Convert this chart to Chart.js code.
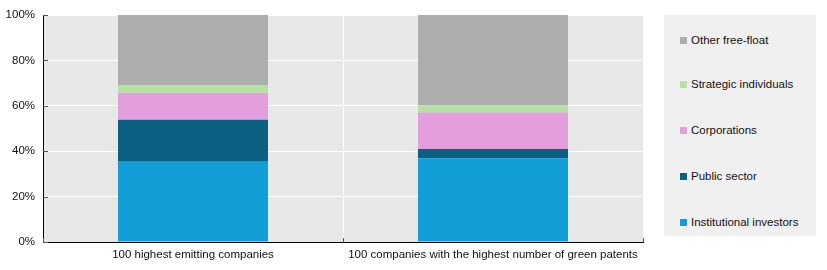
<!DOCTYPE html>
<html>
<head>
<meta charset="utf-8">
<script src="https://cdn.jsdelivr.net/npm/chart.js@4"></script>
<style>
  body { margin: 0; background: #fff; width: 827px; height: 270px; overflow: hidden;
         font-family: "Liberation Sans", Arial, sans-serif; }
  #wrap { position: absolute; left: 0; top: 0; width: 650px; height: 270px; }
  #legend { position: absolute; left: 664px; top: 15px; width: 152px; height: 221px;
            background: #f0f0f0; }
  .item { position: absolute; left: 16px; font-size: 11.5px; color: #111; white-space: nowrap;
          line-height: 14px; }
  .item span { display: inline-block; width: 7px; height: 7px; margin-right: 4px;
               vertical-align: 0px; }
</style>
</head>
<body>
<div id="wrap"><canvas id="chart"></canvas></div>
<div id="legend"></div>
<script>
// Data (shares of ownership, %)
const categories = [
  "100 highest emitting companies",
  "100 companies with the highest number of green patents",
];
const institutional = [35.7, 36.9];
const publicSector = [18.2, 4.1];
const corporations = [11.9, 16.0];
const strategic = [3.4, 3.2];
const otherFreeFloat = [30.8, 39.8];
const yTicks = [0, 20, 40, 60, 80, 100];

const colors = {
  institutional: "#129fd7",
  publicSector: "#0b5f80",
  corporations: "#e39fdc",
  strategic: "#b3e2a1",
  other: "#adadad",
};

const font = { family: '"Liberation Sans", Arial, sans-serif', size: 11.5 };

// plot background
const plotBg = {
  id: "plotBg",
  beforeDraw(chart) {
    const { ctx, chartArea: a } = chart;
    ctx.save();
    ctx.fillStyle = "#e8e8e8";
    ctx.fillRect(a.left, a.top, a.right - a.left, a.bottom - a.top);
    ctx.restore();
  },
  // inward tick marks
  afterDraw(chart) {
    const { ctx, chartArea: a, scales } = chart;
    ctx.save();
    ctx.strokeStyle = "#555";
    ctx.lineWidth = 1;
    ctx.beginPath();
    yTicks.forEach((v) => {
      const y = Math.round(scales.y.getPixelForValue(v)) + 0.5;
      ctx.moveTo(a.left, y);
      ctx.lineTo(a.left + 5, y);
    });
    [a.left, (a.left + a.right) / 2, a.right].forEach((x) => {
      const px = Math.round(x) + 0.5;
      ctx.moveTo(px, a.bottom);
      ctx.lineTo(px, a.bottom - 4);
    });
    ctx.stroke();
    ctx.restore();
  },
};

const chart = new Chart(document.getElementById("chart"), {
  type: "bar",
  data: {
    labels: categories,
    datasets: [
      { label: "Institutional investors", data: institutional, backgroundColor: colors.institutional },
      { label: "Public sector", data: publicSector, backgroundColor: colors.publicSector },
      { label: "Corporations", data: corporations, backgroundColor: colors.corporations },
      { label: "Strategic individuals", data: strategic, backgroundColor: colors.strategic },
      { label: "Other free-float", data: otherFreeFloat, backgroundColor: colors.other },
    ],
  },
  options: {
    responsive: true,
    maintainAspectRatio: false,
    animation: false,
    layout: { padding: { top: 15, right: 7, left: 0, bottom: 0 } },
    datasets: { bar: { categoryPercentage: 1, barPercentage: 0.5, borderWidth: 0 } },
    scales: {
      x: {
        stacked: true,
        grid: { color: "#fff", lineWidth: 1, drawTicks: false },
        border: { color: "#000", width: 1 },
        ticks: { color: "#111", font, padding: 6 },
        afterFit: (s) => { s.height = 28; },
      },
      y: {
        stacked: true,
        min: 0,
        max: 100,
        grid: { color: "#fff", lineWidth: 1, drawTicks: false },
        border: { color: "#000", width: 1 },
        ticks: { stepSize: 20, color: "#111", font, padding: 8, callback: (v) => v + "%" },
        afterFit: (s) => { s.width = 43; },
      },
    },
    plugins: { legend: { display: false }, tooltip: { enabled: false } },
  },
  plugins: [plotBg],
});

// HTML legend, top item = last dataset
const legendEl = document.getElementById("legend");
const tops = [18, 62, 108, 154, 200];
chart.data.datasets.slice().reverse().forEach((ds, i) => {
  const div = document.createElement("div");
  div.className = "item";
  div.style.top = tops[i] + "px";
  div.innerHTML = `<span style="background:${ds.backgroundColor}"></span>${ds.label}`;
  legendEl.appendChild(div);
});
</script>
</body>
</html>
